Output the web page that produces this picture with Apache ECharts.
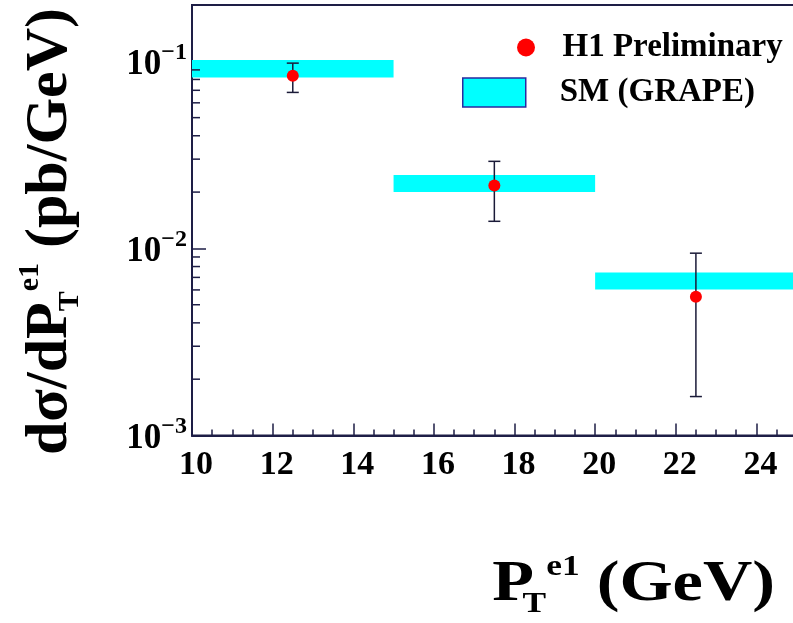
<!DOCTYPE html>
<html>
<head>
<meta charset="utf-8">
<script src="https://cdn.jsdelivr.net/npm/echarts@6/dist/echarts.min.js"></script>
<style>
html,body{margin:0;padding:0;background:#fff;overflow:hidden;width:793px;height:623px;}
#chart{width:837px;height:623px;}
</style>
</head>
<body>
<div id="chart"></div>
<script>
// ---- data ----
const binLow  = [10, 15, 20];
const binHigh = [15, 20, 25];
const smLow   = [0.0820, 0.0200, 0.00604];
const smHigh  = [0.1015, 0.0247, 0.00743];

const ptX     = [12.5, 17.5, 22.5];
const ptY     = [0.0837, 0.0217, 0.00551];
const errLow  = [0.0682, 0.01396, 0.001615];
const errHigh = [0.0978, 0.0292, 0.00943];

const xTickLabels = ['10', '12', '14', '16', '18', '20', '22', '24'];
const yMinorTicks = [0.002,0.003,0.004,0.005,0.006,0.007,0.008,0.009,
                     0.02,0.03,0.04,0.05,0.06,0.07,0.08,0.09];

const seriesNames = ['H1 Preliminary', 'SM (GRAPE)'];

// ---- styling ----
const FONT = 'Liberation Serif';
const AXIS = '#1e1e46';

const chart = echarts.init(document.getElementById('chart'), null, {renderer: 'canvas'});

const bandData = binLow.map((lo, i) => [lo, binHigh[i], smLow[i], smHigh[i]]);
const errData  = ptX.map((x, i) => [x, errLow[i], errHigh[i]]);
const ptData   = ptX.map((x, i) => [x, ptY[i]]);
const minorData = yMinorTicks.map(v => [10, v]);

const titleRich = {
  m: {fontFamily: FONT, fontWeight: 'bold', fontSize: 60, color: '#000', lineHeight: 70, verticalAlign: 'middle'},
  t: {fontFamily: FONT, fontWeight: 'bold', fontSize: 30, color: '#000', lineHeight: 16, verticalAlign: 'bottom', width: 11},
  s: {fontFamily: FONT, fontWeight: 'bold', fontSize: 30, color: '#000', lineHeight: 46, verticalAlign: 'top'}
};

const option = {
  animation: false,
  backgroundColor: '#ffffff',
  grid: {
    left: 192, top: 5, right: 0, bottom: 187.5,
    show: true, borderColor: AXIS, borderWidth: 2, backgroundColor: 'transparent'
  },
  legend: [
    {
      data: [{name: seriesNames[0], icon: 'circle', itemStyle: {color: '#ff0000', opacity: 1}}],
      left: 512, top: 26,
      itemWidth: 63, itemHeight: 18,
      selectedMode: false,
      textStyle: {fontFamily: FONT, fontWeight: 'bold', fontSize: 33, color: '#000'}
    },
    {
      data: [{name: seriesNames[1], icon: 'rect',
              itemStyle: {color: '#00ffff', borderColor: '#2a2aa0', borderWidth: 1.5}}],
      left: 457, top: 71,
      itemWidth: 63, itemHeight: 29,
      selectedMode: false,
      textStyle: {fontFamily: FONT, fontWeight: 'bold', fontSize: 33, color: '#000',
                  padding: [0, 0, 0, 29]}
    }
  ],
  xAxis: {
    type: 'value', min: 10, max: 26, interval: 2,
    axisLine: {show: true, lineStyle: {color: AXIS, width: 2}},
    axisTick: {show: true, inside: true, length: 12, lineStyle: {color: AXIS, width: 1.5}},
    minorTick: {show: true, splitNumber: 4, length: 6, lineStyle: {color: AXIS, width: 1.5}},
    splitLine: {show: false},
    axisLabel: {
      margin: 13, showMaxLabel: false,
      fontFamily: FONT, fontWeight: 'bold', fontSize: 34, color: '#000', lineHeight: 34,
      padding: [0, 0, 0, 8],
      formatter: function (v) {
        const s = String(v);
        return xTickLabels.indexOf(s) >= 0 ? s : '';
      }
    }
  },
  yAxis: {
    type: 'log', logBase: 10, min: 0.001, max: 0.2,
    axisLine: {show: true, lineStyle: {color: AXIS, width: 2}},
    axisTick: {show: true, inside: true, length: 14, lineStyle: {color: AXIS, width: 1.5}},
    minorTick: {show: false},
    splitLine: {show: false},
    axisLabel: {
      margin: 5, showMaxLabel: false,
      formatter: function (v) {
        const l = Math.log10(v);
        const e = Math.round(l);
        if (Math.abs(l - e) > 0.01) return '';
        return '{b|10}{e|\u2212' + (-e) + '}';
      },
      rich: {
        b: {fontFamily: FONT, fontWeight: 'bold', fontSize: 35, color: '#000', lineHeight: 42, verticalAlign: 'bottom'},
        e: {fontFamily: FONT, fontWeight: 'bold', fontSize: 24, color: '#000', lineHeight: 24, verticalAlign: 'top'}
      }
    }
  },
  graphic: [
    {
      type: 'text', x: 775, y: 586, z: 10, scaleX: 1.22,
      style: {
        text: '{m|P}{t|T}{s|e1}{m| (GeV)}',
        align: 'right', verticalAlign: 'middle',
        rich: {
          m: {fontFamily: FONT, fontWeight: 'bold', fontSize: 56, color: '#000', lineHeight: 66, verticalAlign: 'middle'},
          t: {fontFamily: FONT, fontWeight: 'bold', fontSize: 29, color: '#000', lineHeight: 14, verticalAlign: 'bottom', width: 10},
          s: {fontFamily: FONT, fontWeight: 'bold', fontSize: 29, color: '#000', lineHeight: 44, verticalAlign: 'top'}
        }
      }
    },
    {
      type: 'text', x: 50, y: 8, rotation: Math.PI / 2, z: 10,
      style: {
        text: '{m|d\u03c3/dP}{t|T}{s|e1}{m| (pb/GeV)}',
        align: 'right', verticalAlign: 'middle',
        rich: titleRich
      }
    }
  ],
  series: [
    {
      name: seriesNames[1],
      type: 'custom',
      data: bandData,
      itemStyle: {color: '#00ffff'},
      z: 1,
      renderItem: function (params, api) {
        const p1 = api.coord([api.value(0), api.value(3)]);
        const p2 = api.coord([api.value(1), api.value(2)]);
        return {
          type: 'rect',
          shape: {x: p1[0], y: p1[1], width: p2[0] - p1[0], height: p2[1] - p1[1]},
          style: {fill: '#00ffff'}
        };
      }
    },
    {
      name: 'yMinor',
      type: 'custom',
      data: minorData,
      silent: true,
      z: 3,
      renderItem: function (params, api) {
        const p = api.coord([api.value(0), api.value(1)]);
        return {
          type: 'line',
          shape: {x1: p[0], y1: p[1], x2: p[0] + 8, y2: p[1]},
          style: {stroke: AXIS, lineWidth: 1.5}
        };
      }
    },
    {
      name: 'errors',
      type: 'custom',
      data: errData,
      z: 4,
      renderItem: function (params, api) {
        const lo = api.coord([api.value(0), api.value(1)]);
        const hi = api.coord([api.value(0), api.value(2)]);
        const hw = 6;
        const st = {stroke: '#1a1a38', lineWidth: 1.5};
        return {
          type: 'group',
          children: [
            {type: 'line', shape: {x1: lo[0], y1: lo[1], x2: hi[0], y2: hi[1]}, style: st},
            {type: 'line', shape: {x1: lo[0] - hw, y1: lo[1], x2: lo[0] + hw, y2: lo[1]}, style: st},
            {type: 'line', shape: {x1: hi[0] - hw, y1: hi[1], x2: hi[0] + hw, y2: hi[1]}, style: st}
          ]
        };
      }
    },
    {
      name: seriesNames[0],
      type: 'scatter',
      data: ptData,
      symbol: 'circle',
      symbolSize: 12,
      itemStyle: {color: '#ff0000', opacity: 1},
      z: 5
    }
  ]
};

chart.setOption(option);
</script>
</body>
</html>
